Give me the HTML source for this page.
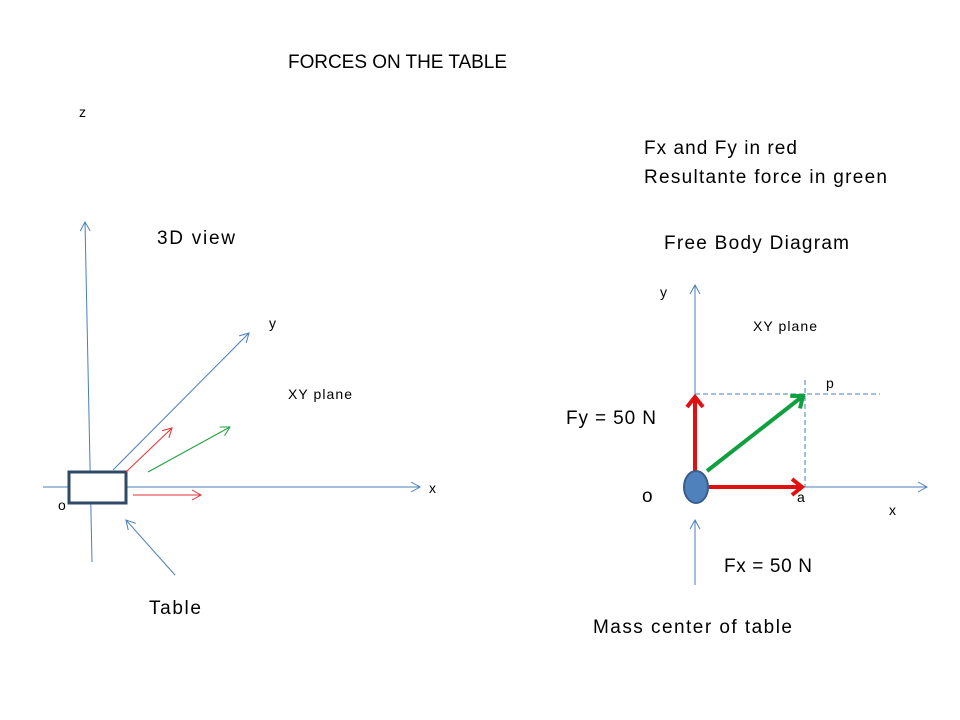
<!DOCTYPE html>
<html><head><meta charset="utf-8"><style>html,body{margin:0;padding:0;background:#fff}svg{display:block}</style></head>
<body>
<svg width="960" height="720" viewBox="0 0 960 720" xmlns="http://www.w3.org/2000/svg" font-family="Liberation Sans, sans-serif">
<defs>
<marker id="ab" markerWidth="12" markerHeight="12" refX="10" refY="6" orient="auto" markerUnits="userSpaceOnUse"><path d="M1,1 L10,6 L1,11" fill="none" stroke="#4a7ebb" stroke-width="1"/></marker>
<marker id="ar" markerWidth="12" markerHeight="12" refX="10" refY="6" orient="auto" markerUnits="userSpaceOnUse"><path d="M1,1 L10,6 L1,11" fill="none" stroke="#e03030" stroke-width="1"/></marker>
<marker id="ag" markerWidth="12" markerHeight="12" refX="10" refY="6" orient="auto" markerUnits="userSpaceOnUse"><path d="M1,1 L10,6 L1,11" fill="none" stroke="#20a040" stroke-width="1"/></marker>
<marker id="rb" markerWidth="24" markerHeight="24" refX="13" refY="12" orient="auto" markerUnits="userSpaceOnUse"><path d="M3,4 L13,12 L3,20" fill="none" stroke="#e01010" stroke-width="4"/></marker>
<marker id="gb" markerWidth="24" markerHeight="24" refX="13" refY="12" orient="auto" markerUnits="userSpaceOnUse"><path d="M3,4 L13,12 L3,20" fill="none" stroke="#10a040" stroke-width="4"/></marker>
</defs>
<g fill="#000">
<text x="288" y="68" font-size="19" textLength="219">FORCES ON THE TABLE</text>
<text x="79" y="117" font-size="14">z</text>
<text x="157" y="244" font-size="19" textLength="78">3D view</text>
<text x="269" y="328" font-size="14">y</text>
<text x="288" y="399" font-size="14" textLength="64">XY plane</text>
<text x="429" y="493" font-size="14">x</text>
<text x="58" y="510" font-size="14">o</text>
<text x="149" y="614" font-size="19" textLength="52">Table</text>
<text x="644" y="154" font-size="19" textLength="153">Fx and Fy in red</text>
<text x="644" y="183" font-size="19" textLength="243">Resultante force in green</text>
<text x="664" y="249" font-size="19" textLength="185">Free Body Diagram</text>
<text x="660" y="297" font-size="14">y</text>
<text x="753" y="331" font-size="14" textLength="64">XY plane</text>
<text x="826" y="388" font-size="14">p</text>
<text x="566" y="424" font-size="19" textLength="90">Fy = 50 N</text>
<text x="642" y="502" font-size="19">o</text>
<text x="797" y="502" font-size="14">a</text>
<text x="889" y="515" font-size="14">x</text>
<text x="724" y="572" font-size="19" textLength="88">Fx = 50 N</text>
<text x="593" y="633" font-size="19" textLength="199">Mass center of table</text>
</g>
<g stroke="#4a7ebb" stroke-width="1" fill="none">
<line x1="92" y1="562" x2="85" y2="222" marker-end="url(#ab)"/>
<line x1="43" y1="487" x2="420" y2="487" marker-end="url(#ab)"/>
<line x1="113" y1="470" x2="249" y2="333" marker-end="url(#ab)"/>
<line x1="175" y1="575" x2="126" y2="520" marker-end="url(#ab)"/>
<line x1="695" y1="394" x2="695" y2="285" marker-end="url(#ab)"/>
<line x1="805" y1="487" x2="927" y2="487" marker-end="url(#ab)"/>
<line x1="695" y1="585" x2="695" y2="520" marker-end="url(#ab)"/>
<line x1="695" y1="394" x2="880" y2="394" stroke-dasharray="5,3"/>
<line x1="805" y1="380" x2="805" y2="487" stroke-dasharray="5,3"/>
</g>
<rect x="69" y="472" width="57" height="31" fill="#fff" stroke="#2f4a66" stroke-width="3"/>
<line x1="126" y1="472" x2="172" y2="428" stroke="#e03030" stroke-width="1" marker-end="url(#ar)"/>
<line x1="148" y1="472" x2="230" y2="427" stroke="#20a040" stroke-width="1" marker-end="url(#ag)"/>
<line x1="133" y1="495" x2="201" y2="495" stroke="#e03030" stroke-width="1" marker-end="url(#ar)"/>
<line x1="695" y1="472" x2="695" y2="397" stroke="#e01010" stroke-width="4" marker-end="url(#rb)"/>
<line x1="706" y1="487" x2="802" y2="487" stroke="#e01010" stroke-width="4" marker-end="url(#rb)"/>
<line x1="707" y1="471" x2="803" y2="396" stroke="#10a040" stroke-width="4" marker-end="url(#gb)"/>
<ellipse cx="696" cy="487" rx="12" ry="16" fill="#4f81bd" stroke="#385d8a" stroke-width="2"/>
</svg>
</body></html>
